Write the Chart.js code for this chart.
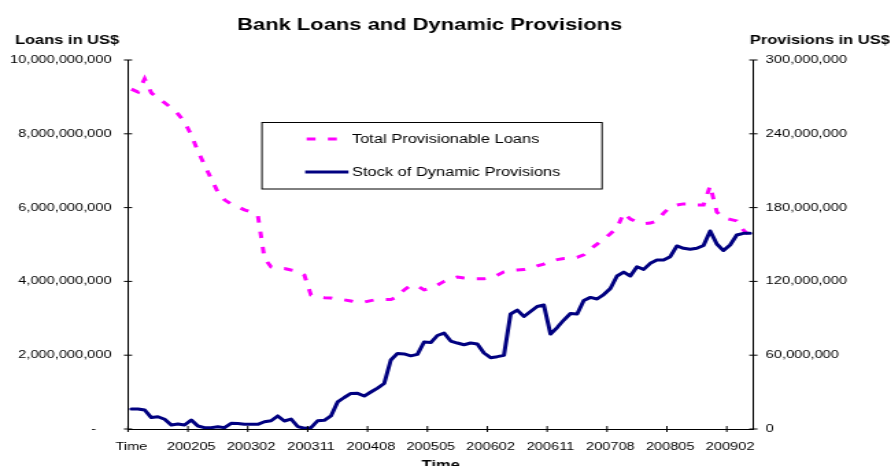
<!DOCTYPE html>
<html>
<head>
<meta charset="utf-8">
<title>Bank Loans and Dynamic Provisions</title>
<script src="https://cdn.jsdelivr.net/npm/chart.js@4.4.1/dist/chart.umd.min.js"></script>
<style>
  html, body { margin: 0; padding: 0; background: #fff; overflow: hidden; }
  /* chart is laid out 650px wide, then widened to 891px */
  #wrap { width: 650px; height: 466px; transform: scale(1.3708, 1); transform-origin: 0 0; }
  canvas { display: block; }
</style>
</head>
<body>
<div id="wrap"><canvas id="chart" width="650" height="466"></canvas></div>
<script>
// ===== data =====
const periods = [
  "Time", "200109", "200110", "200111", "200112",
  "200201", "200202", "200203", "200204", "200205", "200206", "200207", "200208", "200209", "200210", "200211", "200212",
  "200301", "200302", "200303", "200304", "200305", "200306", "200307", "200308", "200309", "200310", "200311", "200312",
  "200401", "200402", "200403", "200404", "200405", "200406", "200407", "200408", "200409", "200410", "200411", "200412",
  "200501", "200502", "200503", "200504", "200505", "200506", "200507", "200508", "200509", "200510", "200511", "200512",
  "200601", "200602", "200603", "200604", "200605", "200606", "200607", "200608", "200609", "200610", "200611", "200612",
  "200701", "200702", "200703", "200704", "200705", "200706", "200707", "200708", "200709", "200710", "200711", "200712",
  "200801", "200802", "200803", "200804", "200805", "200806", "200807", "200808", "200809", "200810", "200811", "200812",
  "200901", "200902", "200903", "200904", "200905",
];

// Total Provisionable Loans, US$ (left axis)
const totalLoans = [
  9.21e9, 9.13e9, 9.49e9, 9.11e9, 8.97e9, 8.84e9, 8.70e9, 8.54e9, 8.32e9, 7.97e9,
  7.53e9, 7.15e9, 6.78e9, 6.42e9, 6.21e9, 6.10e9, 6.02e9, 5.94e9, 5.88e9, 5.80e9,
  4.63e9, 4.39e9, 4.36e9, 4.35e9, 4.31e9, 4.28e9, 4.17e9, 3.63e9, 3.58e9, 3.56e9,
  3.55e9, 3.52e9, 3.50e9, 3.47e9, 3.43e9, 3.44e9, 3.48e9, 3.51e9, 3.51e9, 3.51e9,
  3.58e9, 3.77e9, 3.89e9, 3.88e9, 3.77e9, 3.81e9, 3.90e9, 4.00e9, 4.07e9, 4.12e9,
  4.09e9, 4.07e9, 4.07e9, 4.07e9, 4.09e9, 4.17e9, 4.26e9, 4.30e9, 4.31e9, 4.32e9,
  4.36e9, 4.42e9, 4.47e9, 4.55e9, 4.59e9, 4.62e9, 4.63e9, 4.65e9, 4.72e9, 4.88e9,
  5.01e9, 5.15e9, 5.29e9, 5.45e9, 5.85e9, 5.69e9, 5.61e9, 5.56e9, 5.58e9, 5.64e9,
  5.85e9, 6.02e9, 6.07e9, 6.10e9, 6.10e9, 6.07e9, 6.07e9, 6.59e9, 5.88e9, 5.72e9,
  5.68e9, 5.64e9, 5.39e9, 5.23e9,
];

// Stock of Dynamic Provisions, US$ (right axis)
const dynamicProvisions = [
  16.3e6, 16.3e6, 15.4e6, 9.3e6, 10.0e6, 7.9e6, 3.3e6, 4.1e6, 3.3e6, 7.3e6,
  2.4e6, 1.1e6, 1.1e6, 1.9e6, 1.1e6, 4.6e6, 4.5e6, 3.8e6, 3.8e6, 3.8e6,
  5.9e6, 6.7e6, 10.6e6, 6.5e6, 8.1e6, 2.0e6, 0.6e6, 1.1e6, 6.7e6, 7.1e6,
  10.6e6, 22.0e6, 25.6e6, 28.9e6, 29.0e6, 26.8e6, 30.1e6, 33.3e6, 37.0e6, 56.1e6,
  61.4e6, 61.0e6, 59.5e6, 60.7e6, 70.7e6, 70.3e6, 76.0e6, 78.0e6, 71.5e6, 69.9e6,
  68.5e6, 69.9e6, 69.1e6, 61.8e6, 58.0e6, 58.8e6, 59.9e6, 93.5e6, 96.7e6, 91.5e6,
  95.5e6, 99.6e6, 100.8e6, 77.2e6, 82.5e6, 88.6e6, 93.9e6, 93.5e6, 104.5e6, 107.0e6,
  105.7e6, 109.3e6, 114.2e6, 124.4e6, 127.6e6, 124.4e6, 131.9e6, 129.8e6, 134.7e6, 137.4e6,
  137.4e6, 140.1e6, 148.8e6, 146.9e6, 146.1e6, 146.9e6, 149.2e6, 161.0e6, 150.4e6, 145.1e6,
  149.6e6, 157.7e6, 159.1e6, 159.1e6,
];

// axis ranges and tick steps
const loanAxis = { min: 0, max: 10e9, step: 2e9 };
const provAxis = { min: 0, max: 300e6, step: 60e6 };
const LABEL_EVERY = 9;   // one period label every 9 months

const FONT = "'Liberation Sans', Arial, sans-serif";
const TICK_SIZE = 10.67;
Chart.defaults.font.family = FONT;
Chart.defaults.color = "#000";

// titles, crossing tick marks and the boxed legend
const sheetDecor = {
  id: "sheetDecor",
  afterDraw(chart) {
    const { ctx, chartArea: a, scales } = chart;
    ctx.save();

    // tick marks crossing the axis lines
    ctx.strokeStyle = "#000";
    ctx.lineWidth = 1;
    ctx.setLineDash([]);
    ctx.beginPath();
    [["yLoans", a.left], ["yProv", a.right]].forEach(([id, x]) => {
      const s = scales[id];
      s.ticks.forEach(t => {
        const y = s.getPixelForValue(t.value);
        ctx.moveTo(x - 3, y);
        ctx.lineTo(x + 3, y);
      });
    });
    const xs = scales.x;
    for (let i = 0; i < periods.length; i += LABEL_EVERY) {
      const x = xs.getPixelForValue(i - 0.5);
      ctx.moveTo(x, a.bottom - 3);
      ctx.lineTo(x, a.bottom + 3);
    }
    ctx.stroke();

    // accounting-style zero on the loans axis
    ctx.fillStyle = "#000";
    ctx.font = `${TICK_SIZE}px ${FONT}`;
    ctx.textAlign = "center";
    ctx.textBaseline = "middle";
    ctx.fillText("-", 68.2, scales.yLoans.getPixelForValue(0));

    // titles
    ctx.textBaseline = "alphabetic";
    ctx.font = `bold 16px ${FONT}`;
    ctx.textAlign = "center";
    ctx.fillText("Bank Loans and Dynamic Provisions", 313.5, 29.5);
    ctx.font = `bold 12px ${FONT}`;
    ctx.textAlign = "left";
    ctx.fillText("Loans in US$", 10.9, 44);
    ctx.fillText("Provisions in US$", 547.1, 43.5);
    ctx.textAlign = "center";
    ctx.fillText("Time", (a.left + a.right) / 2, 468.8);

    // legend box
    ctx.lineWidth = 1;
    ctx.strokeRect(191.1, 122.5, 248.1, 66.5);
    const rows = [
      { ds: chart.data.datasets[0], y: 139, x0: 223.7, x1: 246.7 },
      { ds: chart.data.datasets[1], y: 172, x0: 222.6, x1: 254.2 },
    ];
    rows.forEach(r => {
      ctx.beginPath();
      ctx.strokeStyle = r.ds.borderColor;
      ctx.lineWidth = r.ds.borderWidth;
      ctx.lineCap = "butt";
      ctx.setLineDash(r.ds.borderDash || []);
      ctx.moveTo(r.x0, r.y);
      ctx.lineTo(r.x1, r.y);
      ctx.stroke();
      ctx.setLineDash([]);
      ctx.fillStyle = "#000";
      ctx.font = `12px ${FONT}`;
      ctx.textAlign = "left";
      ctx.textBaseline = "middle";
      ctx.fillText(r.ds.label, 256.7, r.y + 1);
    });
    ctx.restore();
  },
};

new Chart(document.getElementById("chart"), {
  type: "line",
  data: {
    labels: periods,
    datasets: [
      {
        label: "Total Provisionable Loans",
        data: totalLoans,
        yAxisID: "yLoans",
        borderColor: "#FF00FF",
        borderWidth: 3,
        borderDash: [6.5, 9],
        borderCapStyle: "butt",
        pointRadius: 0,
        tension: 0,
        order: 1,
      },
      {
        label: "Stock of Dynamic Provisions",
        data: dynamicProvisions,
        yAxisID: "yProv",
        borderColor: "#000080",
        borderWidth: 3,
        borderJoinStyle: "round",
        borderCapStyle: "round",
        pointRadius: 0,
        tension: 0,
        order: 0,
      },
    ],
  },
  options: {
    responsive: false,
    animation: false,
    layout: { padding: { top: 60, left: 0, right: 0, bottom: 0 } },
    plugins: { legend: { display: false }, tooltip: { enabled: false }, title: { display: false } },
    scales: {
      x: {
        type: "category",
        offset: true,
        grid: { display: false, drawTicks: false },
        border: { display: true, color: "#000", width: 1 },
        ticks: {
          autoSkip: false,
          maxRotation: 0,
          minRotation: 0,
          padding: 12,
          font: { size: TICK_SIZE },
          callback: (v, i) => (i % LABEL_EVERY === 0 ? periods[i] : ""),
        },
        afterFit: s => { s.height = 37; },
      },
      yLoans: {
        type: "linear",
        position: "left",
        min: loanAxis.min,
        max: loanAxis.max,
        grid: { display: false, drawTicks: false },
        border: { display: true, color: "#000", width: 1 },
        ticks: {
          stepSize: loanAxis.step,
          padding: 12,
          font: { size: TICK_SIZE },
          callback: v => (v === 0 ? "" : v.toLocaleString("en-US")),
        },
        afterFit: s => { s.width = 93.4; },
      },
      yProv: {
        type: "linear",
        position: "right",
        min: provAxis.min,
        max: provAxis.max,
        grid: { display: false, drawTicks: false },
        border: { display: true, color: "#000", width: 1 },
        ticks: {
          stepSize: provAxis.step,
          padding: 9,
          font: { size: TICK_SIZE },
          callback: v => v.toLocaleString("en-US"),
        },
        afterFit: s => { s.width = 100.4; },
      },
    },
  },
  plugins: [sheetDecor],
});
</script>
</body>
</html>
